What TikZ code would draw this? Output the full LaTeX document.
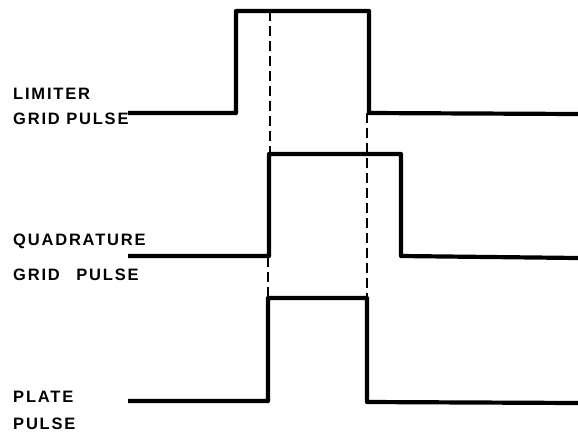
\documentclass[tikz,border=0pt]{standalone}
\usepackage{fontspec}
\newfontfamily\lettere[LetterSpace=11]{Liberation Sans}
\begin{document}
\begin{tikzpicture}[x=1pt,y=-1pt,
    impulso/.style={line width=4.2pt,line join=round},
    guida/.style={line width=2pt,dash pattern=on 10pt off 5pt},
    etich/.style={anchor=base west,inner sep=0pt,font=\lettere\bfseries\fontsize{16.5}{19}\selectfont}]
  \useasboundingbox (0,0) rectangle (578,432);
  % istanti dei fronti (in comune fra i tre impulsi)
  \coordinate (sL) at (236,0);
  \coordinate (sQ) at (269,0);
  \coordinate (dL) at (369,0);
  \coordinate (dQ) at (401,0);
  % etichette
  \node[etich] (limA) at (13,99) {LIMITER};
  \node[etich] (limB) at (13,124) {GRID PULSE};
  \node[etich] (quaA) at (13,245) {QUADRATURE};
  \node[etich] (quaB) at (13,280) {GRID\hspace{1em}PULSE};
  \node[etich] (plaA) at (13,402) {PLATE};
  \node[etich] (plaB) at (13,429) {PULSE};
  % impulso di griglia limitatrice
  \draw[impulso] (128,113) -- (sL |- 0,113) -- (sL |- 0,11) -- (dL |- 0,11)
      -- (dL |- 0,113) -- (578,114);
  % impulso di griglia in quadratura
  \draw[impulso] (128,256) -- (sQ |- 0,256) -- (sQ |- 0,154) -- (dQ |- 0,154)
      -- (dQ |- 0,256) -- (578,258);
  % impulso di placca: solo dove i due si sovrappongono
  \draw[impulso] (128,401) -- (268,401) -- (268,298) -- (367,298)
      -- (367,402) -- (578,403);
  % linee guida tratteggiate
  \draw[guida] (270,11) -- (270,154);
  \draw[guida] (268,257) -- (268,298);
  \draw[guida] (367,113) -- (367,298);
\end{tikzpicture}
\end{document}
